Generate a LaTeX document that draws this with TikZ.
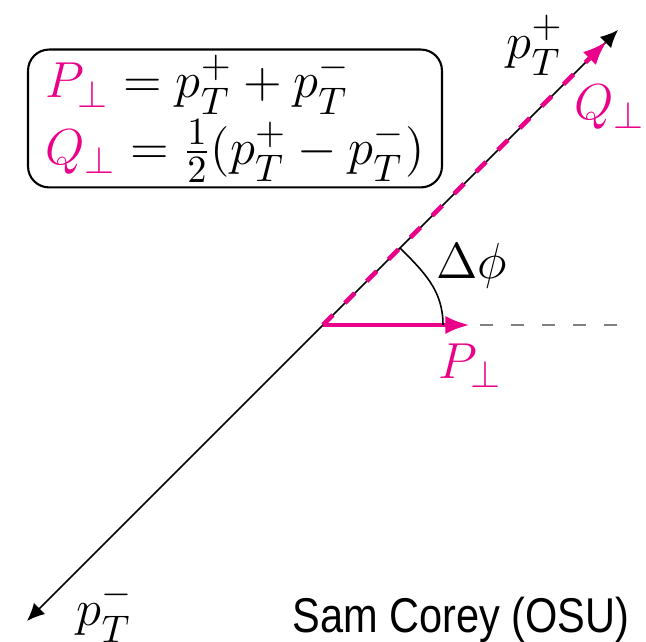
\documentclass[tikz,border=0pt]{standalone}
\usepackage{fontspec}
\usepackage{amsmath}
\usetikzlibrary{arrows.meta, positioning}
\newfontfamily\namefont[FakeStretch=0.85]{Liberation Sans}
\definecolor{pperp}{RGB}{234,0,137}

\begin{document}
\begin{tikzpicture}[font=\fontsize{15.4}{18}\selectfont,
    axis/.style={line width=0.45pt, {Latex[length=5pt,width=4.5pt]}-{Latex[length=5pt,width=4.5pt]}},
    pinkvec/.style={pperp, line width=1.3pt, -{Latex[length=7pt,width=5.2pt]}},
    pinkdash/.style={pinkvec, dash pattern=on 4pt off 4.8pt},
    refline/.style={gray, line width=0.5pt, dash pattern=on 3.8pt off 5pt}]

\useasboundingbox (-3.23,-3.17) rectangle (3.23,3.25);

% Points
\coordinate (O) at (0,0);
\coordinate (pplus) at (2.95,2.95);
\coordinate (pminus) at (-2.96,-2.96);
\coordinate (qtip) at (2.84,2.84);
\coordinate (ptip) at (1.47,0);
\coordinate (refend) at (2.97,0);
\coordinate (arcstart) at (1.2,0);
\coordinate (arcend) at (0.77,0.77);

% Back-to-back jets
\draw[axis] (pminus) -- (pplus);

% Reference direction
\draw[refline] (1.57,0) -- (refend);

% Vectors
\draw[pinkdash] (O) -- (qtip);
\draw[pinkvec] (O) -- (ptip);

% Angle
\draw[line width=0.45pt] (arcstart) to[out=90,in=-45] (arcend);

% Labels
\node (lplus) at (2.12,2.80) {$p_T^+$};
\node (lminus) at (-2.18,-2.87) {$p_T^-$};
\node[text=pperp] (lq) at (2.87,2.18) {$Q_\perp$};
\node[text=pperp] (lp) at (1.47,-0.41) {$P_\perp$};
\node (ldphi) at (1.49,0.59) {$\Delta\phi$};

% Definitions
\node[draw, rounded corners=6pt, line width=0.6pt, align=left, inner xsep=5pt, inner ysep=1.5pt] (defs) at (-0.88,2.065)
  {$\color{pperp}P_\perp \color{black}= p_T^+ + p_T^-$\\[1pt]
   $\color{pperp}Q_\perp \color{black}= \frac{1}{2}(p_T^+ - p_T^-)$};

% Credit
\node[anchor=base, inner sep=0pt, font=\namefont\fontsize{13.9}{16}\selectfont] (credit) at (1.38,-3.08) {Sam Corey (OSU)};

\end{tikzpicture}
\end{document}
